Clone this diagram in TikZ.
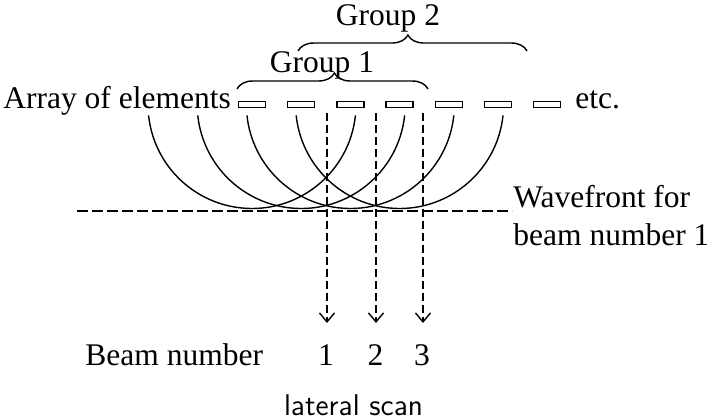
\documentclass[tikz,border=0pt]{standalone}
\usepackage{fontspec}
\setmainfont{Liberation Serif}
\usetikzlibrary{arrows.meta,decorations.pathreplacing}
\begin{document}
\begin{tikzpicture}[x=0.5pt,y=-0.5pt,
  elem/.style={draw,line width=0.7pt,minimum width=13.5pt,minimum height=3pt,inner sep=0pt,outer sep=0pt},
  wave/.style={line width=0.7pt},
  beam/.style={line width=0.7pt,dash pattern=on 4pt off 2pt,-{Straight Barb[length=4.5pt,width=7.5pt,line width=0.7pt]}},
  front/.style={line width=0.8pt,dash pattern=on 5.5pt off 2pt},
  grp/.style={line width=0.7pt,decorate,decoration={brace,amplitude=8pt}},
  lbl/.style={inner sep=0pt,font=\fontsize{15.75pt}{19pt}\selectfont},
  sanslbl/.style={inner sep=0pt,font=\sffamily\fontsize{15pt}{18pt}\selectfont}]
\useasboundingbox (0,0) rectangle (707,418);
% elements
\foreach \i in {1,...,7}{
  \node[elem] (e\i) at ({252+49.2*(\i-1)},104.5) {};
}
% texts
\node[lbl,anchor=base west] (arr) at (3,108) {Array of elements};
\node[lbl,anchor=base west] (etc) at (575,108) {etc.};
\node[lbl,anchor=base] (g1) at (322,72) {Group 1};
\node[lbl,anchor=base] (g2) at (388,25) {Group 2};
\node[lbl,anchor=base west] (wf1) at (513,207) {Wavefront for};
\node[lbl,anchor=base west] (wf2) at (513,245) {beam number 1};
\node[lbl,anchor=base west] (bn) at (85,365) {Beam number};
\node[lbl,anchor=base] (b1) at (326,365) {1};
\node[lbl,anchor=base] (b2) at (375.5,365) {2};
\node[lbl,anchor=base] (b3) at (422,365) {3};
\node[sanslbl,anchor=base] (ls) at (353.5,415) {lateral scan};
% braces
\coordinate (g1l) at (237,89);
\coordinate (g1r) at (428,89);
\coordinate (g2l) at (298,51);
\coordinate (g2r) at (527,51);
\draw[grp,decoration={aspect=0.51}] (g1l) -- (g1r);
\draw[grp,decoration={aspect=0.48}] (g2l) -- (g2r);
% wavefronts
\foreach \i in {1,...,4}{
  \draw[wave] ([shift={(6:104)}]e\i.center) arc[start angle=6,end angle=174,radius=104];
}
% wavefront line
\coordinate (wl) at (77,211);
\coordinate (wr) at (512,211);
\draw[front] (wl) -- (wr);
% beams
\coordinate (t1) at (327,113);
\coordinate (t2) at (376,113);
\coordinate (t3) at (423,113);
\coordinate (h1) at (327,323);
\coordinate (h2) at (376,323);
\coordinate (h3) at (423,323);
\draw[beam] (t1) -- (h1);
\draw[beam] (t2) -- (h2);
\draw[beam] (t3) -- (h3);
\end{tikzpicture}
\end{document}
